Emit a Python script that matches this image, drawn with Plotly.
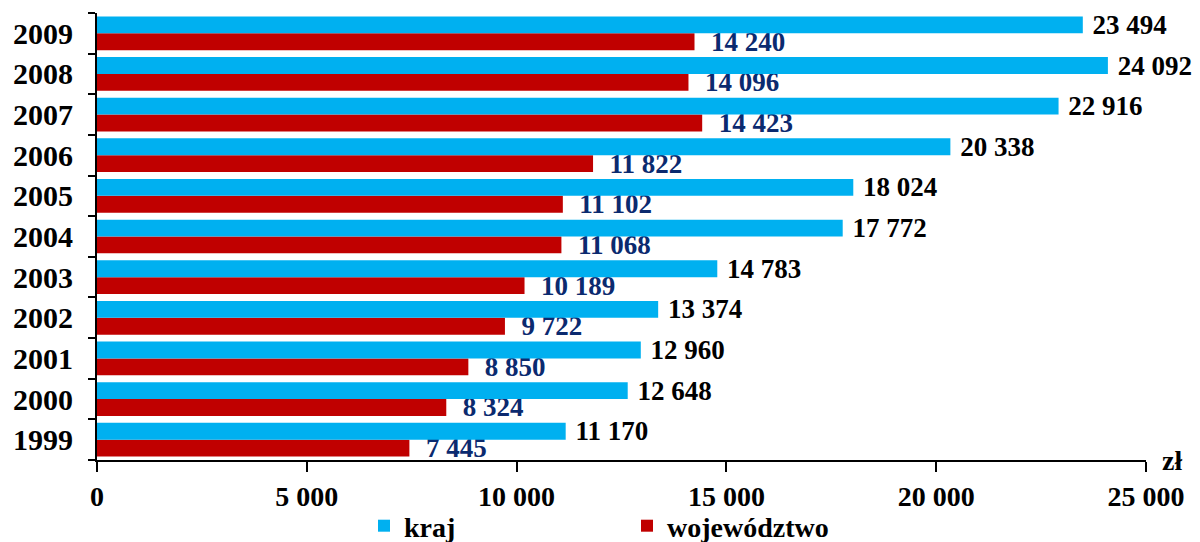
import plotly.graph_objects as go

years = ["1999", "2000", "2001", "2002", "2003", "2004", "2005", "2006", "2007", "2008", "2009"]
kraj = [11170, 12648, 12960, 13374, 14783, 17772, 18024, 20338, 22916, 24092, 23494]
wojewodztwo = [7445, 8324, 8850, 9722, 10189, 11068, 11102, 11822, 14423, 14096, 14240]
x_ticks = [0, 5000, 10000, 15000, 20000, 25000]
unit_label = "zł"

def fmt(v):
    return "{:,}".format(v).replace(",", " ")

FONT = "Liberation Serif, Times New Roman, serif"
NB = "\u00a0"

# page has an 8px body margin: figure is drawn at (8, 8)
W, H = 1192, 534

fig = go.Figure()
fig.add_trace(go.Bar(
    y=years, x=wojewodztwo, orientation="h", name="województwo",
    marker=dict(color="#C00000", line=dict(width=0)),
    text=[NB * 2 + fmt(v) for v in wojewodztwo], textposition="outside",
    textfont=dict(family=FONT, size=27, color="#0B2A6F", weight="bold"),
    cliponaxis=False, constraintext="none",
))
fig.add_trace(go.Bar(
    y=years, x=kraj, orientation="h", name="kraj",
    marker=dict(color="#00B0F0", line=dict(width=0)),
    text=[NB + fmt(v) for v in kraj], textposition="outside",
    textfont=dict(family=FONT, size=27, color="#000000", weight="bold"),
    cliponaxis=False, constraintext="none",
))

fig.update_layout(
    width=W, height=H,
    margin=dict(l=89, r=54, t=5, b=82, autoexpand=False),
    paper_bgcolor="white", plot_bgcolor="white",
    barmode="group", bargap=0.17, bargroupgap=0,
    separators=", ",
    font=dict(family=FONT, size=27, color="#000000", weight="bold"),
    showlegend=True,
    legend=dict(
        orientation="h", traceorder="reversed",
        xref="container", yref="container",
        x=(364 - 8) / W, y=1 - (528 - 8 - 2) / H, xanchor="left", yanchor="middle",
        font=dict(family=FONT, size=28, color="#000000", weight="bold"),
        entrywidth=218, entrywidthmode="pixels",
        itemwidth=30, bgcolor="rgba(0,0,0,0)",
    ),
)
fig.update_xaxes(
    range=[0, 25000], tickvals=x_ticks, tickformat=",d",
    showgrid=False, zeroline=False, automargin=False,
    showline=True, linecolor="black", linewidth=2,
    ticks="outside", ticklen=10, tickwidth=2, tickcolor="black",
    ticklabelstandoff=0,
    tickfont=dict(family=FONT, size=28, color="#000000", weight="bold"),
)
fig.update_yaxes(
    type="category", categoryorder="array", categoryarray=years,
    showgrid=False, zeroline=False, automargin=False,
    showline=True, linecolor="black", linewidth=2,
    ticks="outside", ticklen=7, tickwidth=2, tickcolor="black",
    tickson="boundaries", ticklabelstandoff=16,
    tickfont=dict(family=FONT, size=30, color="#000000", weight="bold"),
)
fig.add_annotation(
    x=1, y=0, xref="paper", yref="paper", text=unit_label,
    showarrow=False, xanchor="left", yanchor="middle", xshift=14, yshift=0,
    font=dict(family=FONT, size=28, color="#000000", weight="bold"),
)

fig.write_html("out.html")
